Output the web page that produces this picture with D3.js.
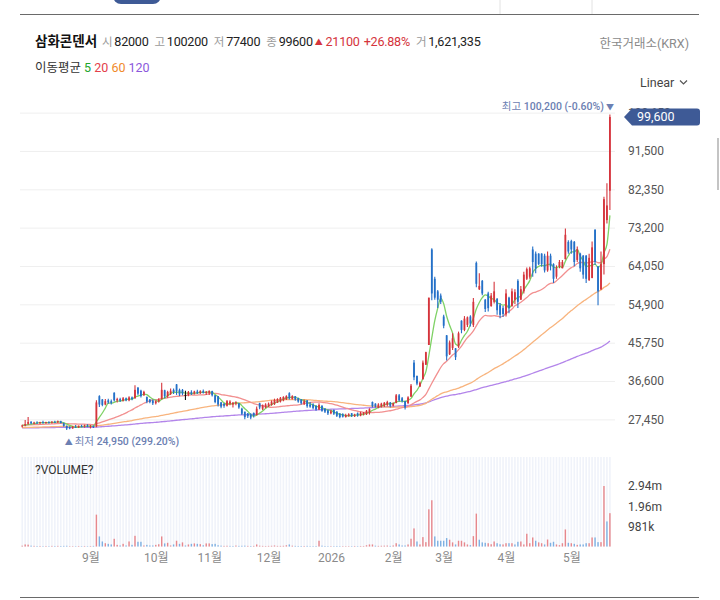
<!DOCTYPE html>
<html>
<head>
<meta charset="utf-8">
<script src="https://cdn.jsdelivr.net/npm/d3@7"></script>
<style>
    body { margin: 0; background: #fff; }
    #space { width: 720px; height: 600px; }
</style>
</head>
<body>
<div id="space"></div>
<script>

/************************************************
				Chart data
*************************************************/
var startDate = "2025-07-29";
var holidays = ["2025-08-15", "2025-10-03", "2025-10-06", "2025-10-07", "2025-10-08", "2025-10-09",
    "2025-12-25", "2025-12-31", "2026-01-01", "2026-02-16", "2026-02-17", "2026-02-18",
    "2026-03-02", "2026-05-01", "2026-05-05"];

var opens = [
    25800, 26000, 26400, 26900, 26500, 26700, 26600, 26800, 26600, 26800,
    26700, 26900, 26800, 27000, 26500, 25900, 25600, 25300, 25700, 25600,
    25900, 25800, 26000, 25700, 25900, 25800, 33000, 32200, 31000, 32000,
    31800, 33800, 32000, 32300, 31900, 32500, 32000, 32700, 32500, 35000,
    34300, 33200, 32800, 32200, 32000, 31300, 31800, 32300, 34400, 33000,
    33600, 34500, 35800, 34500, 34500, 33300, 33300, 34000, 33600, 34100,
    33700, 34200, 33800, 33800, 34200, 33200, 33000, 31500, 31200, 30700,
    31200, 31000, 31300, 31300, 30000, 29300, 28900, 28600, 29000, 28500,
    31300, 30000, 30300, 30600, 30900, 31100, 31400, 31700, 32000, 32300,
    33700, 32300, 33000, 32500, 32200, 31200, 32000, 31000, 31000, 30700,
    29800, 30700, 30000, 29600, 28900, 29700, 29300, 28800, 28700, 28000,
    28300, 28900, 28200, 28900, 28400, 28700, 28700, 29000, 31600, 31200,
    30200, 30500, 30700, 30900, 31500, 30700, 31400, 33200, 32500, 31800,
    31300, 32900, 41000, 37800, 35300, 37000, 40500, 45200, 68000, 61000,
    58000, 57000, 52000, 47500, 43000, 44500, 44400, 44800, 51000, 48800,
    50000, 52000, 50000, 64800, 58500, 60500, 56000, 57500, 54500, 55500,
    56200, 54700, 54000, 52500, 56500, 54500, 56000, 60500, 56000, 58000,
    61000, 61500, 68000, 67000, 67000, 67000, 66500, 63000, 66500, 64500,
    61500, 64000, 63500, 65700, 69800, 70000, 69800, 65500, 67000, 66500,
    66500, 60700, 61200, 72700, 64000, 58500, 64500, 75000, 82000];

var highs = [
    26200, 27300, 28000, 27000, 26900, 27000, 26900, 27100, 26900, 27000,
    27000, 27100, 27200, 27100, 26700, 26000, 25800, 25900, 26100, 26000,
    26200, 26200, 26300, 26100, 26000, 32000, 33200, 32300, 32300, 32400,
    32200, 33900, 32600, 32600, 32800, 32700, 33000, 32900, 35600, 35200,
    34500, 34300, 32900, 32300, 32200, 32000, 32500, 36200, 34500, 34300,
    34800, 34800, 35900, 34800, 34700, 34300, 34200, 34400, 34300, 34500,
    34400, 34600, 34200, 34400, 34300, 33300, 33000, 31600, 31300, 32100,
    32000, 31600, 31800, 31300, 30200, 29300, 29000, 28900, 29100, 30500,
    31400, 31000, 31300, 31500, 32000, 32400, 32500, 32800, 33000, 33200,
    33900, 33200, 33000, 32600, 32300, 32200, 32100, 31600, 31300, 30800,
    31300, 30800, 30100, 29800, 29700, 29800, 29400, 29000, 28900, 28800,
    28900, 29000, 28800, 29100, 29300, 29200, 29700, 30100, 31700, 31300,
    31300, 31400, 31600, 31900, 31600, 31500, 33500, 33500, 32800, 31900,
    33000, 35900, 41600, 37900, 36500, 41500, 43600, 56500, 68300, 61500,
    58300, 57500, 52400, 47600, 46300, 48000, 44500, 48400, 51100, 52100,
    52000, 52300, 56400, 65100, 62300, 60700, 56200, 57900, 57600, 60300,
    56400, 55200, 54500, 58500, 56700, 58700, 58500, 60900, 59300, 62700,
    63700, 63900, 68700, 67500, 67100, 67100, 67000, 67500, 67000, 64700,
    64200, 65500, 65500, 73000, 70200, 70300, 70000, 68700, 67200, 66700,
    66700, 67000, 69900, 72800, 64000, 67500, 80600, 83800, 100200];

var lows = [
    25500, 25800, 26200, 26300, 26300, 26400, 26300, 26500, 26400, 26500,
    26500, 26600, 26600, 26500, 25700, 24950, 25100, 25200, 25400, 25400,
    25600, 25500, 25600, 25300, 25400, 25600, 30400, 30600, 30800, 31200,
    31000, 31700, 31500, 31600, 31700, 31800, 31800, 32000, 32400, 33200,
    32700, 33100, 31300, 31300, 30900, 31000, 31500, 32200, 32500, 32600,
    33300, 33500, 33300, 33000, 33200, 32100, 33000, 33300, 33400, 33500,
    33500, 33600, 33300, 33300, 32900, 31300, 30500, 30100, 30200, 30500,
    30800, 30300, 30800, 30000, 28500, 27500, 27800, 27500, 27900, 28400,
    29900, 29700, 30100, 30400, 30700, 30900, 31400, 31500, 31800, 32100,
    32200, 32200, 31900, 31400, 31000, 30900, 30200, 30200, 29900, 29500,
    29700, 29300, 29000, 28500, 28700, 28500, 28000, 27700, 27900, 27900,
    28100, 28000, 28000, 28100, 28200, 28400, 28500, 28600, 30300, 30300,
    30100, 30300, 30400, 30600, 30300, 30500, 31300, 31700, 31500, 29800,
    31200, 32800, 36800, 35600, 35200, 37000, 40400, 45200, 55900, 56000,
    54000, 55000, 49200, 41500, 42800, 44000, 41600, 44500, 48000, 48500,
    49500, 49600, 49500, 59000, 58300, 57100, 53100, 53200, 54300, 55100,
    52400, 51600, 51900, 52000, 52800, 54300, 55000, 54000, 56000, 57500,
    60700, 61000, 61500, 62300, 64300, 63900, 62500, 62700, 63000, 60000,
    61000, 63500, 63500, 65600, 67000, 67000, 64000, 65000, 62700, 61000,
    60000, 60500, 61100, 64300, 54700, 58300, 62000, 74200, 77400];

var closes = [
    26000, 26300, 26800, 26500, 26700, 26600, 26800, 26600, 26800, 26700,
    26900, 26800, 27000, 26600, 25900, 25300, 25300, 25700, 25600, 25900,
    25800, 26000, 25700, 25900, 25600, 31500, 31000, 30900, 31800, 31500,
    31400, 32000, 32300, 31900, 32500, 32000, 32700, 32300, 34500, 33600,
    33000, 34000, 31700, 31600, 31300, 31800, 32200, 34500, 33000, 34000,
    34300, 34000, 34200, 33400, 33600, 33300, 34000, 33600, 34100, 33700,
    34200, 33800, 34000, 34200, 33200, 31600, 31000, 30500, 30700, 31800,
    31700, 31400, 31500, 30300, 28800, 28000, 28200, 27900, 28300, 30000,
    30300, 30800, 31000, 31200, 31700, 32100, 32300, 32600, 32800, 33000,
    32500, 33000, 32200, 31700, 31300, 31800, 30600, 30500, 30200, 29800,
    30900, 29500, 29300, 28900, 29400, 28800, 28300, 28000, 28100, 28500,
    28700, 28300, 28600, 28400, 29000, 29100, 29500, 29900, 30600, 30500,
    31000, 31200, 31400, 31600, 30700, 31300, 33200, 32000, 31800, 30300,
    32700, 35500, 37500, 36000, 36200, 41000, 43500, 56500, 57500, 56500,
    56000, 55500, 49800, 42500, 45800, 46800, 42300, 48000, 48800, 51500,
    51800, 50300, 55500, 59800, 59300, 57500, 53800, 54000, 57000, 58000,
    53500, 52400, 52600, 57500, 54000, 58000, 57800, 55500, 58500, 62000,
    63300, 63500, 65000, 63500, 64500, 64500, 63000, 66500, 64000, 61000,
    63500, 65000, 65000, 71500, 67500, 68000, 65000, 68000, 63500, 62000,
    61000, 66000, 68500, 65000, 58000, 64500, 80000, 78500, 99600];

var volumes = [
    40000, 100000, 90000, 40000, 30000, 25000, 25000, 20000, 25000, 20000,
    30000, 25000, 30000, 25000, 30000, 35000, 20000, 20000, 20000, 25000,
    20000, 25000, 20000, 25000, 30000, 1550000, 490000, 245000, 160000, 130000,
    100000, 375000, 80000, 50000, 130000, 50000, 245000, 80000, 520000, 230000,
    230000, 50000, 80000, 50000, 50000, 80000, 110000, 490000, 150000, 180000,
    50000, 100000, 280000, 130000, 200000, 50000, 100000, 130000, 150000, 130000,
    115000, 60000, 150000, 150000, 115000, 130000, 60000, 40000, 30000, 35000,
    30000, 25000, 45000, 30000, 35000, 40000, 30000, 25000, 30000, 100000,
    40000, 30000, 25000, 30000, 35000, 50000, 30000, 30000, 35000, 60000,
    100000, 40000, 30000, 25000, 25000, 25000, 30000, 20000, 20000, 25000,
    280000, 40000, 25000, 20000, 20000, 20000, 25000, 20000, 20000, 20000,
    20000, 20000, 25000, 20000, 25000, 25000, 60000, 100000, 100000, 40000,
    30000, 35000, 40000, 45000, 30000, 50000, 160000, 100000, 50000, 50000,
    100000, 378000, 880000, 245000, 100000, 457000, 212000, 1810000, 2250000, 490000,
    280000, 280000, 280000, 410000, 330000, 200000, 100000, 280000, 280000, 200000,
    100000, 65000, 505000, 1600000, 330000, 200000, 180000, 160000, 110000, 245000,
    160000, 110000, 100000, 160000, 160000, 160000, 100000, 230000, 245000, 100000,
    620000, 160000, 440000, 280000, 200000, 160000, 100000, 340000, 180000, 230000,
    100000, 65000, 160000, 830000, 180000, 160000, 130000, 80000, 100000, 100000,
    160000, 160000, 440000, 440000, 212000, 212000, 2943000, 1220000, 1621335];

var priceTicks = [27450, 36600, 45750, 54900, 64050, 73200, 82350, 91500, 100650];
var volumeTicks = [981000, 1962000, 2943000];
var volumeTickLabels = ["981k", "1.96m", "2.94m"];
var monthTickDates = ["2025-09-01", "2025-10-01", "2025-11-03", "2025-12-01", "2026-01-02",
    "2026-02-02", "2026-03-03", "2026-04-01", "2026-05-04"];
var monthLabels = ["9월", "10월", "11월", "12월", "2026", "2월", "3월", "4월", "5월"];

var maPeriods = [5, 20, 60, 120];
// level of each average at the left edge, stands in for closes before the first bar
var maLead = [26000, 26100, 25500, 25400];

var stockName = "삼화콘덴서";
var exchangeName = "한국거래소(KRX)";


var svg, xScale, yPrice, yVolume, dates;
var FONT = "Roboto, 'Noto Sans CJK KR', sans-serif";
var UP = "#d5343c", DOWN = "#2470c8";
var MA_LINE = ["#7fd266", "#f29090", "#f8b47e", "#b385ea"];
var MA_LABEL = ["#22a52a", "#e3404a", "#f08a2c", "#8b58dc"];

init();

function init()
{
    dates = buildTradingDays(startDate, closes.length);

    //Initialyze svg
    svg = d3.select("#space").append("svg")
        .attr("xmlns", "http://www.w3.org/2000/svg")
        .attr("width", 720)
        .attr("height", 600)
        .style("font-family", FONT);

    xScale = d3.scalePoint().domain(dates).range([22.2, 609.9]);
    yPrice = d3.scaleLinear().domain([27450, 100650]).range([419.4, 112.6]);
    yVolume = d3.scaleLinear().domain([0, 2943000]).range([546.5, 486]);

    drawFrame();
    drawHeader();
    drawPricePanel();
    drawVolumePanel();
    drawMonthAxis();
}

function buildTradingDays(_start, _count) {
    var out = [];
    var d = new Date(_start + "T00:00:00Z");
    var fmt = d3.utcFormat("%Y-%m-%d");
    while (out.length < _count) {
        var key = fmt(d);
        var wd = d.getUTCDay();
        if (wd != 0 && wd != 6 && holidays.indexOf(key) < 0) out.push(key);
        d = new Date(d.getTime() + 86400000);
    }
    return out;
}

function movingAverage(_n, _lead) {
    return closes.map(function (c, i) {
        var sum = 0;
        for (var k = i - _n + 1; k <= i; k++) sum += k < 0 ? _lead : closes[k];
        return sum / _n;
    });
}

/************************************************
				Frame and header
*************************************************/
function drawFrame() {
    svg.append("rect").attr("x", 113).attr("y", -12).attr("width", 48).attr("height", 16)
        .attr("rx", 8).attr("fill", "#3e5a96");
    svg.append("line").attr("x1", 500).attr("x2", 500).attr("y1", 0).attr("y2", 14)
        .attr("stroke", "#e2e2e2");
    svg.append("line").attr("x1", 592).attr("x2", 592).attr("y1", 0).attr("y2", 14)
        .attr("stroke", "#e2e2e2");
    svg.append("line").attr("x1", 20).attr("x2", 699).attr("y1", 14.5).attr("y2", 14.5)
        .attr("stroke", "#6a6a6a").attr("stroke-width", 1.2);
    svg.append("line").attr("x1", 20).attr("x2", 699).attr("y1", 597.5).attr("y2", 597.5)
        .attr("stroke", "#6a6a6a").attr("stroke-width", 1.2);

    //Scroll thumb on the right edge
    svg.append("rect").attr("x", 717).attr("y", 138).attr("width", 2).attr("height", 52)
        .attr("fill", "#c4c4c4");
}

function drawHeader() {
    var n = closes.length - 1;
    var diff = closes[n] - closes[n - 1];
    var pct = diff / closes[n - 1] * 100;
    var comma = d3.format(",");

    svg.append("text").attr("x", 35).attr("y", 46)
        .attr("font-size", 13.5).attr("font-weight", "bold").attr("fill", "#111")
        .text(stockName);

    //[text, colour, size, gap before]
    var parts = [
        ["시", "#9a9a9a", 11.5, 0], [opens[n], "#222", 12.6, 2],
        ["고", "#9a9a9a", 11.5, 6], [highs[n], "#222", 12.6, 2],
        ["저", "#9a9a9a", 11.5, 6], [lows[n], "#222", 12.6, 2],
        ["종", "#9a9a9a", 11.5, 6], [closes[n], "#222", 12.6, 2],
        ["▲", UP, 8, 2], [Math.abs(diff), UP, 12.6, 3],
        [(diff >= 0 ? "+" : "") + pct.toFixed(2) + "%", UP, 12.6, 4],
        ["거", "#9a9a9a", 11.5, 6], [comma(volumes[n]), "#222", 12.6, 2]
    ];
    var line = svg.append("text").attr("x", 102).attr("y", 46).attr("letter-spacing", -0.25);
    line.selectAll("tspan").data(parts).enter().append("tspan")
        .attr("dx", function (d) { return d[3]; })
        .attr("dy", function (d) { return d[0] == "▲" ? -1 : 0; })
        .attr("font-size", function (d) { return d[2]; })
        .attr("fill", function (d) { return d[1]; })
        .text(function (d) { return d[0]; });
    //put the baseline back after the small triangle
    line.selectAll("tspan").filter(function (d, i) { return i == 9; }).attr("dy", 1);

    svg.append("text").attr("x", 689).attr("y", 48).attr("text-anchor", "end")
        .attr("font-size", 12.5).attr("fill", "#8a8a8a").text(exchangeName);

    //Moving average legend
    var legend = svg.append("text").attr("x", 35).attr("y", 72).attr("font-size", 12.5);
    legend.append("tspan").attr("fill", "#333").text("이동평균 ");
    maPeriods.forEach(function (p, i) {
        legend.append("tspan").attr("fill", MA_LABEL[i]).text(p + (i < maPeriods.length - 1 ? " " : ""));
    });

    svg.append("text").attr("x", 640).attr("y", 87).attr("font-size", 12.5)
        .attr("fill", "#444").text("Linear");
    svg.append("polyline").attr("points", "680,80.5 683.5,84 687,80.5")
        .attr("fill", "none").attr("stroke", "#555").attr("stroke-width", 1.2);
}

/************************************************
				Price panel
*************************************************/
function drawPricePanel() {
    var comma = d3.format(",");

    //Grid lines
    var grid = svg.append("g").attr("transform", "translate(20,0)")
        .call(d3.axisLeft(yPrice).tickValues(priceTicks).tickSize(-595).tickFormat(""));
    grid.select(".domain").remove();
    grid.selectAll("line").attr("stroke", "#efefef");

    //Moving averages
    var line = d3.line()
        .x(function (d, i) { return xScale(dates[i]); })
        .y(function (d) { return yPrice(d); })
        .curve(d3.curveMonotoneX);
    var maG = svg.append("g").attr("id", "ma");
    for (var m = maPeriods.length - 1; m >= 0; m--) {
        maG.append("path")
            .datum(movingAverage(maPeriods[m], maLead[m]))
            .attr("d", line)
            .attr("fill", "none")
            .attr("stroke", MA_LINE[m])
            .attr("stroke-width", 1.3);
    }

    //Candles
    var idx = d3.range(closes.length);
    var colorOf = function (i) {
        if (closes[i] > opens[i]) return UP;
        if (closes[i] < opens[i]) return DOWN;
        return "#111";
    };
    var candles = svg.append("g").attr("id", "candle").selectAll("g").data(idx).enter().append("g");
    candles.append("line")
        .attr("x1", function (i) { return xScale(dates[i]); })
        .attr("x2", function (i) { return xScale(dates[i]); })
        .attr("y1", function (i) { return yPrice(highs[i]); })
        .attr("y2", function (i) { return yPrice(lows[i]); })
        .attr("stroke", colorOf)
        .attr("stroke-width", 1.1);
    candles.append("rect")
        .attr("x", function (i) { return xScale(dates[i]) - 0.9; })
        .attr("width", 1.8)
        .attr("y", function (i) { return yPrice(Math.max(opens[i], closes[i])); })
        .attr("height", function (i) {
            return Math.max(1, Math.abs(yPrice(opens[i]) - yPrice(closes[i])));
        })
        .attr("fill", colorOf);

    //Highest / lowest markers
    var n = closes.length - 1;
    var hiIdx = d3.maxIndex(highs), loIdx = d3.minIndex(lows);
    var hiPct = (closes[n] - highs[hiIdx]) / highs[hiIdx] * 100;
    var loPct = (closes[n] - lows[loIdx]) / lows[loIdx] * 100;

    var hi = svg.append("text")
        .attr("x", xScale(dates[hiIdx]) + 4)
        .attr("y", yPrice(highs[hiIdx]) - 4)
        .attr("text-anchor", "end")
        .attr("font-size", 10.5)
        .attr("fill", "#6c80b2");
    hi.append("tspan").text("최고 ");
    hi.append("tspan").attr("font-weight", 500)
        .text(comma(highs[hiIdx]) + " (" + hiPct.toFixed(2) + "%)");
    hi.append("tspan").attr("font-size", 8).text(" ▼");

    var lo = svg.append("text")
        .attr("x", xScale(dates[loIdx]) - 2)
        .attr("y", yPrice(lows[loIdx]) + 15)
        .attr("font-size", 10.5)
        .attr("fill", "#6c80b2");
    lo.append("tspan").attr("font-size", 8).text("▲ ");
    lo.append("tspan").text("최저 ");
    lo.append("tspan").attr("font-weight", 500)
        .text(comma(lows[loIdx]) + " (" + loPct.toFixed(2) + "%)");

    //Right axis, the top label sits mostly under the price tag as in the source
    var axis = svg.append("g").attr("transform", "translate(628,0)")
        .call(d3.axisRight(yPrice).tickValues(priceTicks).tickSize(0).tickPadding(0)
            .tickFormat(comma));
    axis.select(".domain").remove();
    axis.selectAll("text").attr("font-size", 12).attr("font-family", FONT).attr("fill", "#555");

    //Current price tag
    var yc = yPrice(closes[n]);
    svg.append("path")
        .attr("d", "M624," + yc + " L632," + (yc - 8.5) + " L697," + (yc - 8.5)
            + " Q700," + (yc - 8.5) + " 700," + (yc - 5.5) + " L700," + (yc + 5.5)
            + " Q700," + (yc + 8.5) + " 697," + (yc + 8.5) + " L632," + (yc + 8.5) + " Z")
        .attr("fill", "#3e5a96");
    svg.append("text").attr("x", 637).attr("y", yc + 4.3)
        .attr("font-size", 12.5).attr("fill", "#fff").text(comma(closes[n]));
}

/************************************************
				Volume panel
*************************************************/
function drawVolumePanel() {
    var idx = d3.range(volumes.length);

    //Light column stripes
    svg.append("g").selectAll("rect").data(idx).enter().append("rect")
        .attr("x", function (i) { return xScale(dates[i]) - 0.8; })
        .attr("width", 1.6)
        .attr("y", 457)
        .attr("height", 90)
        .attr("fill", "#f0f3fa");

    svg.append("text").attr("x", 35).attr("y", 474).attr("font-size", 12)
        .attr("fill", "#333").text("?VOLUME?");

    svg.append("g").attr("id", "volume").selectAll("rect").data(idx).enter().append("rect")
        .attr("x", function (i) { return xScale(dates[i]) - 0.7; })
        .attr("width", 1.4)
        .attr("y", function (i) { return yVolume(volumes[i]); })
        .attr("height", function (i) { return yVolume(0) - yVolume(volumes[i]); })
        .attr("fill", function (i) {
            var prev = i > 0 ? closes[i - 1] : opens[i];
            return closes[i] >= prev ? "#e7878c" : "#7eb0e2";
        });

    var axis = svg.append("g").attr("transform", "translate(628,0)")
        .call(d3.axisRight(yVolume).tickValues(volumeTicks).tickSize(0).tickPadding(0)
            .tickFormat(function (d, i) { return volumeTickLabels[i]; }));
    axis.select(".domain").remove();
    axis.selectAll("text").attr("font-size", 12).attr("font-family", FONT).attr("fill", "#444");
}

function drawMonthAxis() {
    var axis = svg.append("g").attr("transform", "translate(0,553)")
        .call(d3.axisBottom(xScale).tickValues(monthTickDates).tickSize(0).tickPadding(0)
            .tickFormat(function (d, i) { return monthLabels[i]; }));
    axis.select(".domain").remove();
    axis.selectAll("text").attr("font-size", 12).attr("font-family", FONT).attr("fill", "#8a8a8a");
}

</script>
</body>
</html>
